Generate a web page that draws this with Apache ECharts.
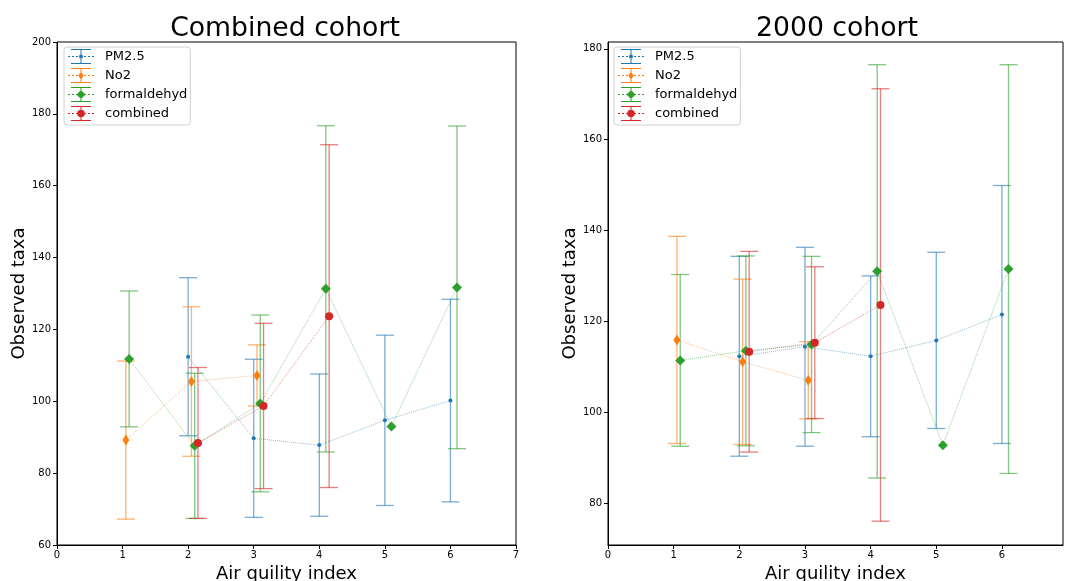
<!DOCTYPE html>
<html>
<head>
<meta charset="utf-8">
<script src="https://cdn.jsdelivr.net/npm/echarts@6/dist/echarts.min.js"></script>
<style>
  html, body { margin: 0; padding: 0; background: #fff; }
  #chart { width: 1065px; height: 581px; }
</style>
</head>
<body>
<div id="chart"></div>
<script>
// x positions (each pollutant is nudged a bit to the right)
const pmX = [2, 3, 4, 5, 6];
const no2X = [1.05, 2.05, 3.05];
const formX = [1.1, 2.1, 3.1, 4.1, 5.1, 6.1];
const combX = [2.15, 3.15, 4.15];

// Combined cohort
const leftPm = [112.4, 89.7, 87.8, 94.7, 100.2];
const leftPmErr = [22, 22, 19.8, 23.7, 28.2];
const leftNo2 = [89.2, 105.5, 107.2];
const leftNo2Err = [22, 20.8, 8.5];
const leftForm = [111.8, 87.6, 99.4, 131.3, 93, 131.7];
const leftFormErr = [18.9, 20.2, 24.6, 45.4, null, 44.9];
const leftComb = [88.4, 98.7, 123.7];
const leftCombErr = [21, 23, 47.7];

// 2000 cohort
const rightPm = [112.3, 114.4, 112.3, 115.8, 121.5];
const rightPmErr = [22, 21.9, 17.7, 19.4, 28.4];
const rightNo2 = [115.9, 111.1, 107];
const rightNo2Err = [22.8, 18.2, 8.5];
const rightForm = [111.4, 113.5, 114.9, 131, 92.7, 131.5];
const rightFormErr = [18.9, 20.9, 19.4, 45.5, null, 45];
const rightComb = [113.3, 115.3, 123.6];
const rightCombErr = [22.1, 16.7, 47.6];

const names = ['PM2.5', 'No2', 'formaldehyd', 'combined'];
const colors = ['#1f77b4', '#ff7f0e', '#2ca02c', '#d62728'];
const FONT = 'DejaVu Sans';

const chart = echarts.init(document.getElementById('chart'));

// error bar drawn with caps
function errItem(params, api) {
  const x = api.value(0), y = api.value(1), e = api.value(2);
  if (e == null || isNaN(e)) return null;
  const top = api.coord([x, y + e]);
  const bot = api.coord([x, y - e]);
  const hw = 9;
  const style = { stroke: api.visual('color'), lineWidth: 1.3, opacity: 0.6 };
  return {
    type: 'group',
    children: [
      { type: 'line', shape: { x1: top[0], y1: top[1], x2: bot[0], y2: bot[1] }, style: style },
      { type: 'line', shape: { x1: top[0] - hw, y1: top[1], x2: top[0] + hw, y2: top[1] }, style: style },
      { type: 'line', shape: { x1: bot[0] - hw, y1: bot[1], x2: bot[0] + hw, y2: bot[1] }, style: style }
    ]
  };
}

const markers = [
  { symbol: 'circle', size: 4 },
  { symbol: 'diamond', size: [7, 11] },
  { symbol: 'diamond', size: [10, 10] },
  { symbol: 'circle', size: 8 }
];

function makeSeries(idx, ys, errs) {
  const out = [];
  const xs = [pmX, no2X, formX, combX];
  xs.forEach((px, i) => {
    const py = ys[i], pe = errs[i];
    out.push({
      name: names[i],
      type: 'custom',
      xAxisIndex: idx, yAxisIndex: idx,
      itemStyle: { color: colors[i] },
      renderItem: errItem,
      encode: { x: 0, y: 1 },
      data: px.map((x, k) => [x, py[k], pe[k] == null ? NaN : pe[k]]),
      z: 2 + i
    });
    out.push({
      name: names[i],
      type: 'line',
      xAxisIndex: idx, yAxisIndex: idx,
      color: colors[i],
      symbol: markers[i].symbol,
      symbolSize: markers[i].size,
      showAllSymbol: true,
      lineStyle: { type: 'dotted', width: 1, opacity: 0.5 },
      itemStyle: { opacity: 1 },
      emphasis: { disabled: true },
      data: px.map((x, k) => [x, py[k]]),
      z: 3 + i
    });
  });
  return out;
}

// legend icons: errorbar with marker (26 x 15 box)
const base = 'M0,7.1h2v0.8h-2z M4,7.1h2v0.8h-2z M8,7.1h2v0.8h-2z M16,7.1h2v0.8h-2z M20,7.1h2v0.8h-2z M24,7.1h2v0.8h-2z ' +
  'M12.5,0h1v15h-1z M3,0h20v1.1h-20z M3,13.9h20v1.1h-20z ';
const icons = [
  'path://' + base + 'M13,5.5a2,2 0 1,1 0,4a2,2 0 1,1 0,-4z',
  'path://' + base + 'M13,3.3l2.6,4.2l-2.6,4.2l-2.6,-4.2z',
  'path://' + base + 'M13,3l4.5,4.5l-4.5,4.5l-4.5,-4.5z',
  'path://' + base + 'M13,3.7a3.8,3.8 0 1,1 0,7.6a3.8,3.8 0 1,1 0,-7.6z'
];

function makeLegend(left) {
  return {
    orient: 'vertical',
    left: left, top: 47,
    itemWidth: 26, itemHeight: 15, itemGap: 4,
    padding: [2, 3, 4, 4],
    borderColor: '#d0d0d0', borderWidth: 1, borderRadius: 3,
    itemStyle: { borderWidth: 0 },
    textStyle: { fontFamily: FONT, fontSize: 13, color: '#000', padding: [0, 0, 0, 6] },
    data: names.map((n, i) => ({ name: n, icon: icons[i] }))
  };
}

function xAxisOf(idx, max, custom) {
  const ax = {
    type: 'value', gridIndex: idx, min: 0, max: max,
    name: 'Air quility index', nameLocation: 'middle', nameGap: 16,
    nameTextStyle: { fontFamily: FONT, fontSize: 18, color: '#000' },
    axisLine: { show: true, onZero: false, lineStyle: { color: '#000', width: 1 } },
    axisTick: { show: true, length: 4, lineStyle: { color: '#000' } },
    axisLabel: { fontFamily: FONT, fontSize: 10, color: '#000', margin: 5 },
    splitLine: { show: false }
  };
  if (custom) {
    ax.axisLabel.customValues = custom;
    ax.axisTick.customValues = custom;
  } else {
    ax.interval = 1;
  }
  return ax;
}

function yAxisOf(idx, min, max, custom) {
  const ax = {
    type: 'value', gridIndex: idx, min: min, max: max,
    name: 'Observed taxa', nameLocation: 'middle', nameGap: 26,
    nameTextStyle: { fontFamily: FONT, fontSize: 18, color: '#000' },
    axisLine: { show: true, onZero: false, lineStyle: { color: '#000', width: 1 } },
    axisTick: { show: true, length: 4, lineStyle: { color: '#000' } },
    axisLabel: { fontFamily: FONT, fontSize: 10, color: '#000', margin: 6 },
    splitLine: { show: false }
  };
  if (custom) {
    ax.axisLabel.customValues = custom;
    ax.axisTick.customValues = custom;
  } else {
    ax.interval = 20;
  }
  return ax;
}

const option = {
  animation: false,
  backgroundColor: '#fff',
  title: [
    { text: 'Combined cohort', left: 280, top: 11, textAlign: 'center',
      textStyle: { fontFamily: FONT, fontSize: 26.7, fontWeight: 'normal', color: '#000' } },
    { text: '2000 cohort', left: 832, top: 11, textAlign: 'center',
      textStyle: { fontFamily: FONT, fontSize: 26.7, fontWeight: 'normal', color: '#000' } }
  ],
  legend: [makeLegend(64), makeLegend(614)],
  grid: [
    { left: 57, right: 549, top: 42, bottom: 36, show: true, borderColor: '#000', borderWidth: 1, outerBoundsMode: 'none' },
    { left: 608, right: 2, top: 42, bottom: 36, show: true, borderColor: '#000', borderWidth: 1, outerBoundsMode: 'none' }
  ],
  xAxis: [xAxisOf(0, 7, null), xAxisOf(1, 6.93, [0, 1, 2, 3, 4, 5, 6])],
  yAxis: [yAxisOf(0, 60, 200, null), yAxisOf(1, 70.75, 181.5, [80, 100, 120, 140, 160, 180])],
  series: []
    .concat(makeSeries(0, [leftPm, leftNo2, leftForm, leftComb], [leftPmErr, leftNo2Err, leftFormErr, leftCombErr]))
    .concat(makeSeries(1, [rightPm, rightNo2, rightForm, rightComb], [rightPmErr, rightNo2Err, rightFormErr, rightCombErr]))
};

chart.setOption(option);
</script>
</body>
</html>
